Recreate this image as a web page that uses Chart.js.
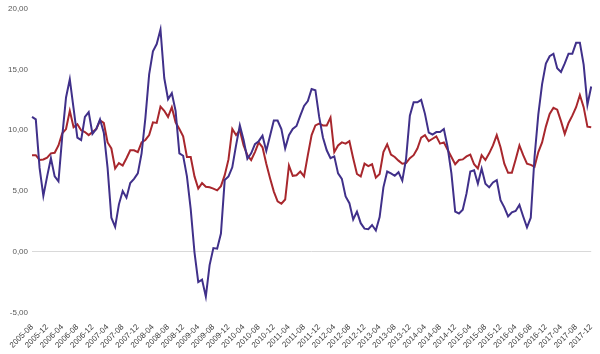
<!DOCTYPE html>
<html lang="en">
<head>
    <meta charset="UTF-8">
    <title>Monthly series 2005-2017</title>
    <script src="https://cdn.jsdelivr.net/npm/chart.js"></script>
    <style>
        * { box-sizing: border-box; margin: 0; padding: 0; }
        body { background: #fff; width: 600px; height: 354px; overflow: hidden; }
    </style>
</head>
<body>
    <canvas id="lineChart" width="600" height="354"></canvas>
    <script>
        // months 2005-08 .. 2017-12
        let months = [];
        for (let y = 2005; y <= 2017; y++) {
            for (let m = 1; m <= 12; m++) {
                if (y === 2005 && m < 8) continue;
                months.push(y + "-" + String(m).padStart(2, "0"));
            }
        }

        let purpleSeries = [
            11.1, 10.9, 6.9, 4.6, 6.2, 7.7, 6.2, 5.8, 9.5, 12.7,
            14.2, 11.8, 9.4, 9.2, 11.1, 11.5, 9.7, 10.1, 10.9, 9.8,
            6.9, 2.8, 2.05, 3.9, 5.0, 4.45, 5.65, 6.0, 6.45, 8.1,
            11.0, 14.6, 16.5, 17.1, 18.3, 14.3, 12.55, 13.05, 11.6, 8.1,
            7.9, 6.2, 3.5, -0.05, -2.5, -2.3, -3.7, -1.1, 0.3, 0.25,
            1.5, 5.9, 6.2, 6.95, 8.75, 10.4, 9.2, 7.65, 8.1, 8.85,
            9.1, 9.55, 8.3, 9.55, 10.8, 10.8, 10.1, 8.5, 9.6, 10.1,
            10.35, 11.2, 12.0, 12.4, 13.4, 13.3, 11.1, 9.4, 8.35, 7.7,
            7.85, 6.45, 6.0, 4.55, 4.0, 2.65, 3.3, 2.35, 1.9, 1.85,
            2.2, 1.75, 2.85, 5.3, 6.6, 6.45, 6.25, 6.55, 5.85, 7.65,
            11.2, 12.3, 12.3, 12.5, 11.35, 9.8, 9.65, 9.85, 9.85, 10.1,
            8.6, 6.45, 3.3, 3.15, 3.45, 4.8, 6.6, 6.7, 5.6, 6.85,
            5.6, 5.3, 5.7, 5.9, 4.25, 3.65, 2.9, 3.25, 3.35, 3.85,
            2.9, 2.0, 2.8, 7.8, 11.3, 13.8, 15.5, 16.1, 16.3, 15.1,
            14.8, 15.5, 16.3, 16.3, 17.2, 17.2, 15.4, 12.1, 13.6
        ];

        let redSeries = [
            7.95, 7.95, 7.55, 7.6, 7.75, 8.1, 8.15, 8.75, 9.75, 10.1,
            11.6, 10.25, 10.5, 10.0, 9.85, 9.6, 9.85, 10.1, 10.8, 10.6,
            9.0, 8.5, 6.85, 7.3, 7.1, 7.7, 8.35, 8.35, 8.2, 9.0,
            9.2, 9.6, 10.65, 10.6, 11.95, 11.6, 11.1, 11.9, 10.65, 10.1,
            9.5, 7.8, 7.8, 6.2, 5.2, 5.65, 5.35, 5.3, 5.2, 5.05,
            5.4, 6.3, 7.6, 10.1, 9.6, 10.0, 8.75, 7.95, 7.55, 8.2,
            9.0, 8.6, 7.25, 6.05, 4.95, 4.15, 3.95, 4.3, 7.1, 6.25,
            6.3, 6.6, 6.2, 7.95, 9.6, 10.4, 10.55, 10.4, 10.4, 11.05,
            8.2, 8.75, 9.0, 8.9, 9.1, 7.7, 6.4, 6.2, 7.25, 7.05,
            7.2, 6.1, 6.4, 8.2, 8.85, 8.0, 7.8, 7.5, 7.25, 7.3,
            7.7, 7.95, 8.5, 9.4, 9.6, 9.1, 9.3, 9.5, 8.9, 9.0,
            8.4, 7.8, 7.2, 7.55, 7.6, 7.85, 8.0, 7.2, 6.85, 7.95,
            7.55, 8.1, 8.75, 9.6, 8.6, 7.25, 6.5, 6.5, 7.6, 8.75,
            7.95, 7.25, 7.15, 7.0, 8.2, 9.0, 10.3, 11.35, 11.85, 11.7,
            10.75, 9.7, 10.6, 11.2, 11.9, 12.9, 11.9, 10.3, 10.25
        ];

        let yMin = -5, yMax = 20, yStep = 5;

        function commaFmt(v) {
            return v.toFixed(2).replace(".", ",");
        }

        new Chart(document.getElementById("lineChart"), {
            type: 'line',
            data: {
                labels: months,
                datasets: [{
                    label: "Series 1",
                    data: purpleSeries,
                    borderColor: "#40308a",
                    borderWidth: 2,
                    pointRadius: 0,
                    tension: 0,
                    fill: false
                }, {
                    label: "Series 2",
                    data: redSeries,
                    borderColor: "#a8272d",
                    borderWidth: 2,
                    pointRadius: 0,
                    tension: 0,
                    fill: false
                }]
            },
            options: {
                responsive: false,
                animation: false,
                layout: {
                    padding: { top: 4, right: 8, bottom: 2, left: 4 }
                },
                plugins: {
                    legend: { display: false },
                    tooltip: { enabled: false }
                },
                scales: {
                    x: {
                        grid: { display: false },
                        border: { display: false },
                        ticks: {
                            autoSkip: false,
                            minRotation: 45,
                            maxRotation: 45,
                            padding: 2,
                            color: "#404040",
                            font: { family: "Liberation Sans", size: 8 },
                            callback: function(value, index) {
                                return index % 4 === 0 ? months[index] : null;
                            }
                        }
                    },
                    y: {
                        min: yMin,
                        max: yMax,
                        border: { display: false },
                        grid: {
                            drawTicks: false,
                            color: function(ctx) {
                                return ctx.tick && ctx.tick.value === 0 ? "#d9d9d9" : "rgba(0,0,0,0)";
                            }
                        },
                        ticks: {
                            stepSize: yStep,
                            padding: 4,
                            color: "#595959",
                            font: { family: "Liberation Sans", size: 8 },
                            callback: function(value) {
                                return commaFmt(value);
                            }
                        }
                    }
                }
            }
        });
    </script>
</body>
</html>
